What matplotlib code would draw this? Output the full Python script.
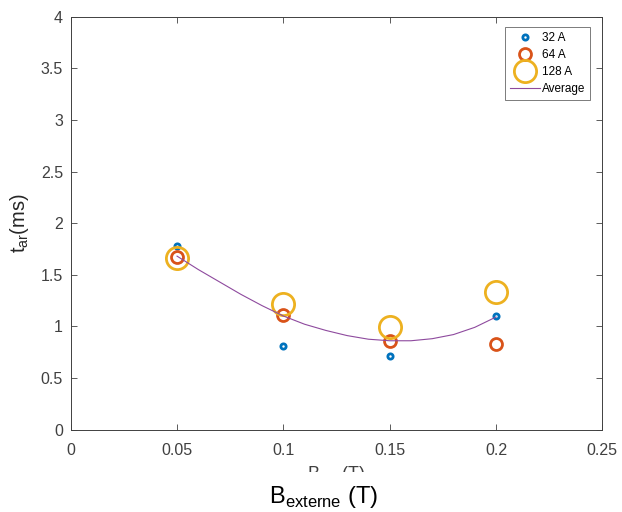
import matplotlib.pyplot as plt
from matplotlib.patches import Rectangle

plt.rcParams['font.family'] = ['Liberation Sans', 'DejaVu Sans']

# champ externe (T)
b_ext = [0.05, 0.10, 0.15, 0.20]

# temps d'arc (ms) par courant
t_32 = [1.78, 0.81, 0.71, 1.10]
t_64 = [1.67, 1.11, 0.86, 0.83]
t_128 = [1.66, 1.22, 0.99, 1.33]

# courbe moyenne
b_avg = [0.05, 0.06, 0.07, 0.08, 0.09, 0.10, 0.11, 0.12, 0.13, 0.14,
         0.15, 0.16, 0.17, 0.18, 0.19, 0.20]
t_avg = [1.68, 1.55, 1.43, 1.31, 1.20, 1.10, 1.02, 0.96, 0.91, 0.875,
         0.86, 0.86, 0.88, 0.92, 0.99, 1.09]

fig = plt.figure(figsize=(6.22, 5.12), dpi=100)
ax = fig.add_axes([0.1137, 0.1611, 0.8547, 0.8063])

ax.plot(b_ext, t_32, 'o', mfc='none', mec='#0072BD', mew=2.0, ms=3.8, label='32 A')
ax.plot(b_ext, t_64, 'o', mfc='none', mec='#D95319', mew=2.0, ms=8.6, label='64 A')
ax.plot(b_ext, t_128, 'o', mfc='none', mec='#EDB120', mew=2.0, ms=16, label='128 A')
ax.plot(b_avg, t_avg, '-', color='#8E4A9E', lw=0.8, label='Average')

ax.set_xlim(0, 0.25)
ax.set_ylim(0, 4)
ax.set_xticks([0, 0.05, 0.1, 0.15, 0.2, 0.25])
ax.set_xticklabels(['0', '0.05', '0.1', '0.15', '0.2', '0.25'])
ax.set_yticks([0, 0.5, 1, 1.5, 2, 2.5, 3, 3.5, 4])
ax.set_yticklabels(['0', '0.5', '1', '1.5', '2', '2.5', '3', '3.5', '4'])
ax.tick_params(direction='in', top=True, right=True, labelsize=11.5,
               colors='#404040', length=4, width=0.6)
ax.tick_params(axis='x', pad=9.5)
ax.tick_params(axis='y', pad=5.5)
for s in ax.spines.values():
    s.set_color('#404040')
    s.set_linewidth(0.7)

ax.set_ylabel('t$_{\\mathregular{ar}}$(ms)', fontsize=14.5, color='#262626', labelpad=7)

# label d'origine partiellement coupe
fig.text(0.541, 0.0938, 'B$_{\\mathregular{ext}}$ (T)', ha='center', va='top',
         fontsize=13, color='#404040')
fig.patches.append(Rectangle((0, 0.0), 1, 0.0787, transform=fig.transFigure,
                             facecolor='white', edgecolor='none', zorder=10))

leg = ax.legend(loc='upper right', fontsize=8.5, frameon=True, fancybox=False,
                edgecolor='#404040', handlelength=2.5, borderpad=0.4,
                labelspacing=0.42, handletextpad=0.2, borderaxespad=0,
                bbox_to_anchor=(0.977, 0.974))
leg.get_frame().set_linewidth(0.6)

fig.text(0.52, 0.03, 'B$_{\\mathregular{externe}}$ (T)', ha='center', va='center',
         fontsize=17, color='black', zorder=11)

fig.savefig('out.png', dpi=100)
